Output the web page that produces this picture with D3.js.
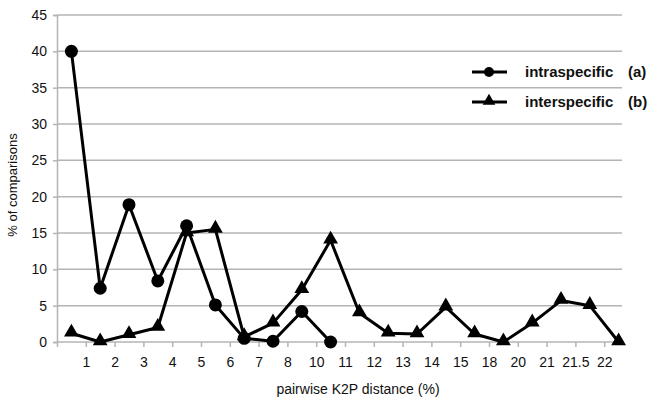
<!DOCTYPE html>
<html>
<head>
<meta charset="utf-8">
<script src="https://cdn.jsdelivr.net/npm/d3@7"></script>
<style>
  body { margin: 0; background: #fff; }
  text { font-family: "Liberation Sans", Arial, sans-serif; }
</style>
</head>
<body>
<svg id="chart" width="657" height="403"></svg>
<script>
// tick labels sit on the category boundaries 1..19
var xLabels = ["1", "2", "3", "4", "5", "6", "7", "8", "10", "11", "12", "13", "14", "15", "18", "20", "21", "21.5", "22"];
var intraspecific = [40, 7.4, 18.9, 8.4, 16, 5.1, 0.5, 0.1, 4.2, 0];
var interspecific = [1.2, 0, 1, 2, 15, 15.5, 0.7, 2.6, 7.2, 14, 4, 1.2, 1.1, 4.8, 1.1, 0, 2.6, 5.7, 5, 0];
var yTicks = [0, 5, 10, 15, 20, 25, 30, 35, 40, 45];

var svg = d3.select("#chart");
// note: "top" is taken by window.top, so use plot* names
var plotLeft = 57, plotRight = 622, plotTop = 15, plotBottom = 342;

var x = d3.scaleLinear().domain([0, 20]).range([plotLeft, plotLeft + 20 * 28.8]);
var y = d3.scaleLinear().domain([0, 45]).range([plotBottom, plotTop]);

// grid
svg.append("g")
  .selectAll("line")
  .data(yTicks.filter(function(d) { return d > 0; }))
  .enter().append("line")
  .attr("x1", plotLeft).attr("x2", plotRight)
  .attr("y1", function(d) { return y(d); })
  .attr("y2", function(d) { return y(d); })
  .attr("stroke", "#b4b4b4").attr("stroke-width", 1.5);

// y axis
var yAxis = svg.append("g")
  .attr("transform", "translate(" + plotLeft + ",0)")
  .call(d3.axisLeft(y).tickValues(yTicks).tickSize(4).tickPadding(6));
yAxis.select(".domain").attr("stroke", "#b4b4b4").attr("stroke-width", 1.5);
yAxis.selectAll(".tick line").attr("stroke", "#b4b4b4").attr("stroke-width", 1.5);
yAxis.selectAll("text").attr("font-size", 14).attr("fill", "#111")
  .attr("font-family", "Liberation Sans, Arial, sans-serif");

// x axis
var xAxis = svg.append("g")
  .attr("transform", "translate(0," + plotBottom + ")")
  .call(d3.axisBottom(x)
    .tickValues(d3.range(0, 20))
    .tickFormat(function(d) { return d === 0 ? "" : xLabels[d - 1]; })
    .tickSize(5).tickPadding(10));
xAxis.select(".domain").attr("d", "M" + plotLeft + ",0H" + plotRight)
  .attr("stroke", "#b4b4b4").attr("stroke-width", 1.5);
xAxis.selectAll(".tick line").attr("stroke", "#b4b4b4").attr("stroke-width", 1.5);
xAxis.selectAll("text").attr("font-size", 14).attr("fill", "#111")
  .attr("font-family", "Liberation Sans, Arial, sans-serif");

var line = d3.line()
  .x(function(d, i) { return x(i + 0.5); })
  .y(function(d) { return y(d); });

var tri = d3.symbol().type(d3.symbolTriangle).size(95);

// interspecific (b)
svg.append("path").datum(interspecific)
  .attr("d", line).attr("fill", "none")
  .attr("stroke", "#000").attr("stroke-width", 3).attr("stroke-linejoin", "round");
svg.append("g").selectAll("path")
  .data(interspecific)
  .enter().append("path")
  .attr("d", tri)
  .attr("transform", function(d, i) { return "translate(" + x(i + 0.5) + "," + (y(d) - 1) + ")"; })
  .attr("fill", "#000");

// intraspecific (a)
svg.append("path").datum(intraspecific)
  .attr("d", line).attr("fill", "none")
  .attr("stroke", "#000").attr("stroke-width", 3).attr("stroke-linejoin", "round");
svg.append("g").selectAll("circle")
  .data(intraspecific)
  .enter().append("circle")
  .attr("cx", function(d, i) { return x(i + 0.5); })
  .attr("cy", function(d) { return y(d); })
  .attr("r", 6.5)
  .attr("fill", "#000");

// legend
var legend = [
  { name: "intraspecific", tag: "(a)", mark: "circle", y: 72 },
  { name: "interspecific", tag: "(b)", mark: "triangle", y: 102 }
];
var lg = svg.append("g");
legend.forEach(function(l) {
  lg.append("line")
    .attr("x1", 472).attr("x2", 507)
    .attr("y1", l.y).attr("y2", l.y)
    .attr("stroke", "#000").attr("stroke-width", 3);
  if (l.mark === "circle") {
    lg.append("circle").attr("cx", 489).attr("cy", l.y).attr("r", 5).attr("fill", "#000");
  } else {
    lg.append("path").attr("d", d3.symbol().type(d3.symbolTriangle).size(70))
      .attr("transform", "translate(489," + (l.y - 1) + ")").attr("fill", "#000");
  }
  lg.append("text").attr("x", 525).attr("y", l.y + 5)
    .attr("font-size", 15).attr("font-weight", "bold").attr("fill", "#111")
    .text(l.name);
  lg.append("text").attr("x", 628).attr("y", l.y + 5)
    .attr("font-size", 15).attr("font-weight", "bold").attr("fill", "#111")
    .text(l.tag);
});

// axis titles
svg.append("text")
  .attr("transform", "translate(17,185) rotate(-90)")
  .attr("text-anchor", "middle").attr("font-size", 13).attr("fill", "#111")
  .text("% of comparisons");
svg.append("text")
  .attr("x", 358).attr("y", 394)
  .attr("text-anchor", "middle").attr("font-size", 14).attr("fill", "#111")
  .text("pairwise K2P distance (%)");
</script>
</body>
</html>
